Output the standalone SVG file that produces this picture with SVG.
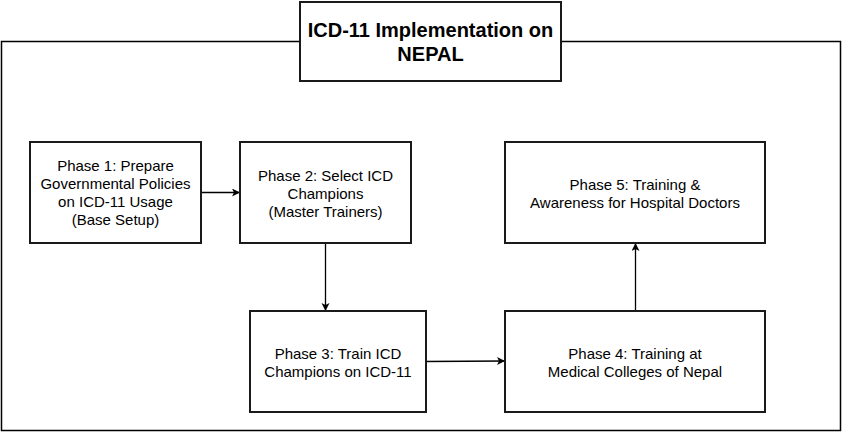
<svg xmlns="http://www.w3.org/2000/svg" width="843" height="433" viewBox="0 0 843 433">
<style>
.box{fill:#fff;stroke:#1a1a1a;stroke-width:2}
.frame{fill:none;stroke:#000;stroke-width:1.5}
.t{font-family:"Liberation Sans",Arial,sans-serif;font-size:15px;fill:#000;text-anchor:middle}
.title{font-family:"Liberation Sans",Arial,sans-serif;font-size:20px;font-weight:bold;fill:#000;text-anchor:middle}
.c{fill:none;stroke:#000;stroke-width:1.3}
</style>
<defs>
<marker id="arr" markerWidth="10" markerHeight="10" refX="8" refY="4" orient="auto" markerUnits="userSpaceOnUse">
<path d="M0,0 L8,4 L0,8 L2,4 Z" fill="#000"/>
</marker>
</defs>
<rect width="843" height="433" fill="#fff"/>
<g id="frame">
<rect class="frame" x="1.5" y="41.5" width="839" height="389"/>
</g>
<g id="title">
<rect class="box" x="300" y="2" width="261" height="79"/>
<text class="title" x="430.5" y="37">ICD-11 Implementation on</text>
<text class="title" x="430.5" y="61">NEPAL</text>
</g>
<g id="connectors">
<path class="c" d="M201,192.5 L240,192.5" marker-end="url(#arr)"/>
<path class="c" d="M325.5,243 L325.5,311" marker-end="url(#arr)"/>
<path class="c" d="M425,361.5 L505,361" marker-end="url(#arr)"/>
<path class="c" d="M635.5,311 L635.5,243" marker-end="url(#arr)"/>
</g>
<g id="phase1">
<rect class="box" x="30" y="142" width="171" height="101"/>
<text class="t" x="115.5" y="171">Phase 1: Prepare</text>
<text class="t" x="115.5" y="189">Governmental Policies</text>
<text class="t" x="115.5" y="207">on ICD-11 Usage</text>
<text class="t" x="115.5" y="225">(Base Setup)</text>
</g>
<g id="phase2">
<rect class="box" x="240" y="142" width="171" height="101"/>
<text class="t" x="325.5" y="181">Phase 2: Select ICD</text>
<text class="t" x="325.5" y="199">Champions</text>
<text class="t" x="325.5" y="217">(Master Trainers)</text>
</g>
<g id="phase3">
<rect class="box" x="250" y="311" width="176" height="101"/>
<text class="t" x="338" y="359">Phase 3: Train ICD</text>
<text class="t" x="338" y="377">Champions on ICD-11</text>
</g>
<g id="phase4">
<rect class="box" x="505" y="311" width="260" height="101"/>
<text class="t" x="635" y="359">Phase 4: Training at</text>
<text class="t" x="635" y="377">Medical Colleges of Nepal</text>
</g>
<g id="phase5">
<rect class="box" x="505" y="142" width="260" height="101"/>
<text class="t" x="635" y="190">Phase 5: Training &amp;</text>
<text class="t" x="635" y="208">Awareness for Hospital Doctors</text>
</g>
</svg>
